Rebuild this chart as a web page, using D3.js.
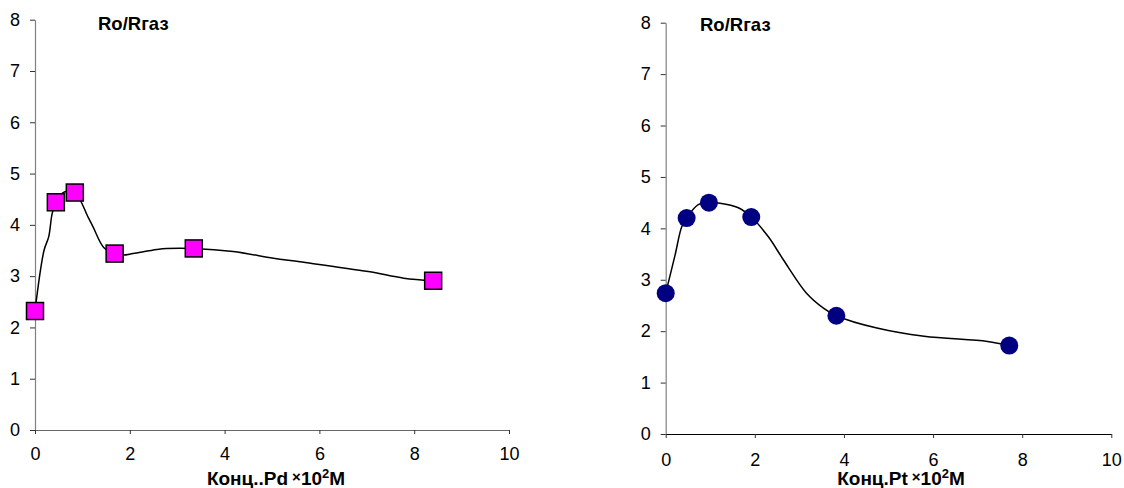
<!DOCTYPE html>
<html><head><meta charset="utf-8">
<script src="https://cdn.jsdelivr.net/npm/d3@7"></script>
<style>body{margin:0;background:#fff}svg{display:block}text{font-family:"Liberation Sans",Arial,sans-serif}</style>
</head><body><svg id="c" width="1124" height="488"></svg>
<script>
// ---- data ----
const xTicks = [0, 2, 4, 6, 8, 10];
const yTicks = [0, 1, 2, 3, 4, 5, 6, 7, 8];
const yTitle = "Ro/Rгаз";

const pdX = [0, 0.44, 0.84, 1.68, 3.35, 8.4];
const pdY = [2.32, 4.44, 4.63, 3.44, 3.54, 2.91];
const pdCurveX = [0, 0.19, 0.29, 0.36, 0.44, 0.62, 0.84, 1.12, 1.23, 1.45, 1.68, 1.86, 2.07, 2.57, 2.78, 3.35, 4.18, 5.03, 5.59, 7.03, 7.78, 8.4];
const pdCurveY = [2.32, 3.5, 3.77, 4.21, 4.44, 4.64, 4.63, 4.15, 3.95, 3.56, 3.44, 3.41, 3.44, 3.52, 3.54, 3.54, 3.48, 3.35, 3.28, 3.09, 2.96, 2.91];

const ptX = [0, 0.47, 0.97, 1.92, 3.83, 7.71];
const ptY = [2.74, 4.2, 4.5, 4.22, 2.3, 1.72];
const ptCurveX = [0, 0.21, 0.36, 0.47, 0.73, 0.97, 1.22, 1.63, 1.92, 2.3, 2.64, 3.16, 3.54, 3.83, 4.74, 5.8, 7.22, 7.71];
const ptCurveY = [2.74, 3.48, 4.03, 4.2, 4.46, 4.5, 4.49, 4.4, 4.22, 3.84, 3.39, 2.74, 2.45, 2.3, 2.06, 1.9, 1.8, 1.72];

const svg = d3.select("#c");

function panel(o) {
  const x = d3.scaleLinear().domain([0, 10]).range([o.x0, o.x1]);
  const y = d3.scaleLinear().domain([0, 8]).range([o.yb, o.yt]);
  const g = svg.append("g");

  const ya = g.append("g").attr("transform", `translate(${o.x0},0)`)
    .call(d3.axisLeft(y).tickValues(yTicks).tickSize(5).tickSizeOuter(0).tickPadding(10).tickFormat(d3.format("d")));
  ya.select(".domain").attr("stroke", "#808080").attr("stroke-width", 1.2);
  ya.selectAll(".tick line").attr("stroke", "#333");
  ya.selectAll("text").attr("font-size", 18).attr("fill", "#000").attr("font-family", "Liberation Sans, Arial, sans-serif");

  const xa = g.append("g").attr("transform", `translate(0,${o.yb})`)
    .call(d3.axisBottom(x).tickValues(xTicks).tickSize(4).tickSizeOuter(0).tickPadding(o.xpad).tickFormat(d3.format("d")));
  xa.select(".domain").attr("stroke", o.xAxisColor).attr("stroke-width", 1.2);
  xa.selectAll(".tick line").attr("stroke", "#333");
  xa.selectAll("text").attr("font-size", 18).attr("fill", "#000").attr("font-family", "Liberation Sans, Arial, sans-serif");

  const line = d3.line().x(d => x(d[0])).y(d => y(d[1])).curve(d3.curveCatmullRom.alpha(0.5));
  g.append("path").datum(o.cx.map((v, i) => [v, o.cy[i]]))
    .attr("d", line).attr("fill", "none").attr("stroke", "#000").attr("stroke-width", 1.5);

  const pts = o.px.map((v, i) => [v, o.py[i]]);
  if (o.marker === "square") {
    g.selectAll("rect.m").data(pts).enter().append("rect")
      .attr("x", d => x(d[0]) - 8.5).attr("y", d => y(d[1]) - 8.5)
      .attr("width", 17).attr("height", 17)
      .attr("fill", "#FF00FF").attr("stroke", "#000").attr("stroke-width", 1.5);
  } else {
    g.selectAll("circle.m").data(pts).enter().append("circle")
      .attr("cx", d => x(d[0])).attr("cy", d => y(d[1])).attr("r", 9)
      .attr("fill", "#000080");
  }

  g.append("text").attr("x", o.titleX).attr("y", o.titleY)
    .attr("font-size", 18.5).attr("font-weight", "bold").text(yTitle);

  const t = g.append("text").attr("x", o.axTitleX).attr("y", 485)
    .attr("text-anchor", "middle").attr("font-size", 19).attr("font-weight", "bold");
  t.append("tspan").text(o.prefix);
  t.append("tspan").attr("dx", 4).attr("dy", -3).attr("font-size", 15).text("×");
  t.append("tspan").attr("dy", 3).text("10");
  t.append("tspan").attr("dy", -7).attr("font-size", 13).text("2");
  t.append("tspan").attr("dy", 7).text("M");
}

panel({x0: 35, x1: 509, yt: 19.7, yb: 430, xpad: 13, xAxisColor: "#666",
  px: pdX, py: pdY, cx: pdCurveX, cy: pdCurveY, marker: "square",
  titleX: 98, titleY: 30, axTitleX: 276, prefix: "Конц..Pd"});
panel({x0: 665.7, x1: 1111.3, yt: 22.7, yb: 434, xpad: 15, xAxisColor: "#000",
  px: ptX, py: ptY, cx: ptCurveX, cy: ptCurveY, marker: "circle",
  titleX: 700, titleY: 31, axTitleX: 901, prefix: "Конц.Pt"});
</script></body></html>
